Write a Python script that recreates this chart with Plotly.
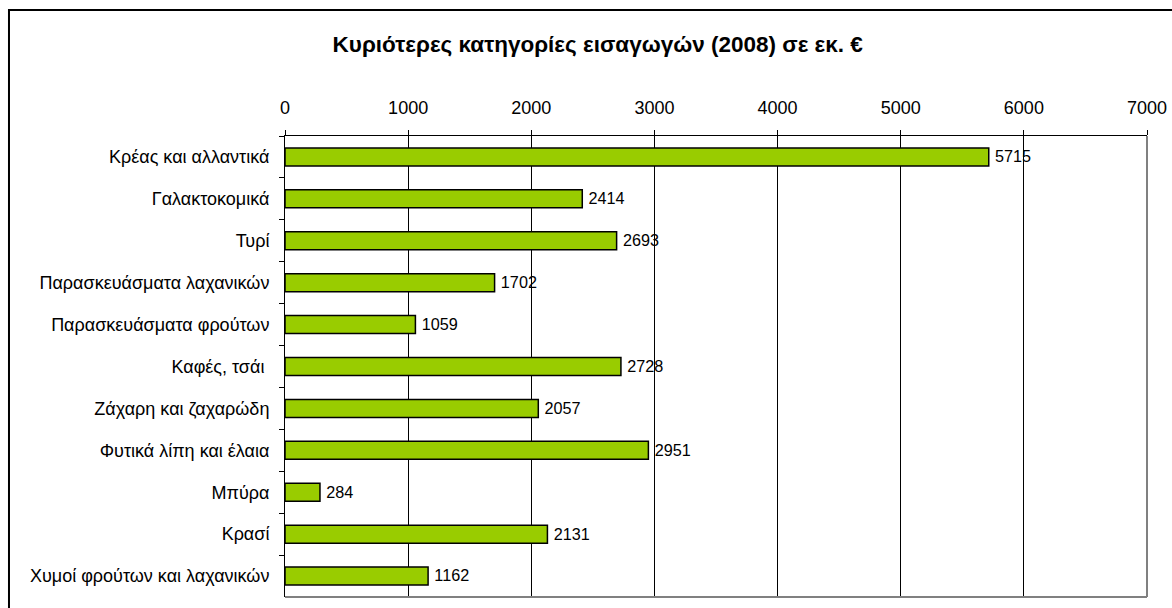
import plotly.graph_objects as go

# --- dane
kategorie = [
    "Κρέας και αλλαντικά",
    "Γαλακτοκομικά",
    "Τυρί",
    "Παρασκευάσματα λαχανικών",
    "Παρασκευάσματα φρούτων",
    "Καφές, τσάι ",
    "Ζάχαρη και ζαχαρώδη",
    "Φυτικά λίπη και έλαια",
    "Μπύρα",
    "Κρασί",
    "Χυμοί φρούτων και λαχανικών",
]
wartosci = [5715, 2414, 2693, 1702, 1059, 2728, 2057, 2951, 284, 2131, 1162]
x_ticks = [0, 1000, 2000, 3000, 4000, 5000, 6000, 7000]

FONT = "Liberation Sans, Arial, sans-serif"

fig = go.Figure()

fig.add_trace(go.Bar(
    x=wartosci,
    y=kategorie,
    orientation="h",
    marker=dict(color="#99CC00", line=dict(color="black", width=1.5)),
    text=["\u2009" + str(v) for v in wartosci],
    textposition="outside",
    textfont=dict(family=FONT, size=18, color="black"),
    cliponaxis=False,
    width=0.43,
    hoverinfo="skip",
))

fig.update_layout(
    width=1172,
    height=608,
    margin=dict(l=285, r=25, t=136, b=11, autoexpand=False),
    paper_bgcolor="white",
    plot_bgcolor="white",
    showlegend=False,
    font=dict(family=FONT, size=18, color="black"),
    title=dict(
        text="<b>Κυριότερες κατηγορίες εισαγωγών (2008) σε εκ. €</b>",
        x=0.51, xanchor="center",
        y=0.927, yanchor="middle",
        font=dict(family=FONT, size=22.5, color="black"),
    ),
    xaxis=dict(
        side="top",
        range=[0, 7000],
        tickvals=x_ticks,
        showgrid=True,
        gridcolor="black",
        gridwidth=1,
        showline=True,
        linecolor="black",
        linewidth=1,
        ticks="outside",
        ticklen=5,
        tickcolor="black",
        ticklabelstandoff=9,
        zeroline=False,
        fixedrange=True,
        automargin=False,
    ),
    yaxis=dict(
        autorange="reversed",
        showline=True,
        linecolor="black",
        linewidth=1,
        ticks="outside",
        ticklen=5,
        tickcolor="black",
        tickson="boundaries",
        showgrid=False,
        ticklabelstandoff=11,
        automargin=False,
    ),
    shapes=[
        # ramka wykresu (prawa i dolna krawędź, szara)
        dict(type="line", xref="paper", yref="paper", x0=1, x1=1, y0=0, y1=1,
             line=dict(color="#808080", width=2)),
        dict(type="line", xref="paper", yref="paper", x0=0, x1=1, y0=0, y1=0,
             line=dict(color="#808080", width=2)),
        # ramka całego rysunku
        dict(type="rect", xref="paper", yref="paper",
             x0=-0.3202, x1=1.1, y0=-0.1, y1=1.2733,
             line=dict(color="black", width=2), layer="above"),
    ],
)

fig.write_html(
    "out.html",
    config={"displayModeBar": False},
    post_script="document.body.style.margin='0';document.body.style.overflow='hidden';",
)
